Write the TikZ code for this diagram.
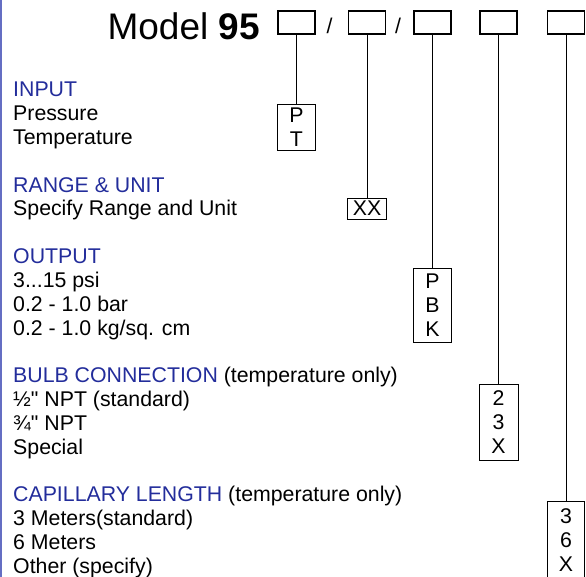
\documentclass[tikz,border=0pt]{standalone}
\usepackage{fontspec}
\setmainfont{Liberation Sans}[Ligatures=TeXOff]
\definecolor{headblue}{RGB}{35,45,155}
\definecolor{edgeblue}{RGB}{100,110,195}
\newcommand{\bodyfont}{\fontsize{21.3}{23.8}\selectfont}

\tikzset{
  digit/.style={draw, line width=1.1pt, minimum width=37pt, minimum height=23pt, inner sep=0pt},
  optbox/.style={draw, line width=0.9pt, align=center, inner sep=0pt, minimum width=38pt, font=\bodyfont},
  item/.style={anchor=base west, inner sep=0pt, font=\bodyfont},
  head/.style={item, text=headblue},
  link/.style={line width=0.9pt}
}

\begin{document}
\begin{tikzpicture}[x=1pt,y=-1pt]
\useasboundingbox (0,0) rectangle (586,577);

% left edge
\draw[edgeblue, line width=1.6pt] (0.8,0) -- (0.8,577);

% title and code boxes
\node[anchor=base east, inner sep=0pt, font=\fontsize{37}{40}\selectfont] (title) at (260,40) {Model \textbf{95}};
\node[digit] (d1) at (296.5,22.5) {};
\node[anchor=base, inner sep=0pt, font=\bodyfont] (s1) at (329.5,34) {/};
\node[digit] (d2) at (367,22.5) {};
\node[anchor=base, inner sep=0pt, font=\bodyfont] (s2) at (398,34) {/};
\node[digit] (d3) at (432.5,22.5) {};
\node[digit] (d4) at (498.5,22.5) {};
\node[digit] (d5) at (566,22.5) {};

% headings
\node[head] (h1) at (13,97) {INPUT};
\node[head] (h2) at (13,192.2) {RANGE \& UNIT};
\node[head] (h3) at (13,263.6) {OUTPUT};
\node[head] (h4) at (13,382.6) {BULB CONNECTION \textcolor{black}{(temperature only)}};
\node[head] (h5) at (13,501.6) {CAPILLARY LENGTH \textcolor{black}{(temperature only)}};

% options
\foreach \row/\txt in {1/Pressure, 2/Temperature, 5/{Specify Range and Unit},
    8/{3...15 psi}, 9/{0.2 - 1.0 bar}, 10/{0.2 - 1.0 kg/sq. cm},
    13/{½" NPT (standard)}, 14/{¾" NPT}, 15/Special,
    18/{3 Meters(standard)}, 19/{6 Meters}, 20/{Other (specify)}}
  \node[item] (t\row) at (13,97+23.8*\row) {\txt};

% code letters
\node[optbox, minimum height=46pt] (o1) at (296.5,127) {P\\T};
\node[optbox, minimum height=21pt, minimum width=39pt] (o2) at (367,208.5) {XX};
\node[optbox, minimum height=74pt] (o3) at (432.5,305) {P\\B\\K};
\node[optbox, minimum height=76pt, minimum width=39pt] (o4) at (498.5,422) {2\\3\\X};
\node[optbox, minimum height=78pt, minimum width=37pt] (o5) at (566,540) {3\\6\\X};

\foreach \i in {1,...,5}
  \draw[link] (d\i.south) -- (o\i.north);

\end{tikzpicture}
\end{document}
